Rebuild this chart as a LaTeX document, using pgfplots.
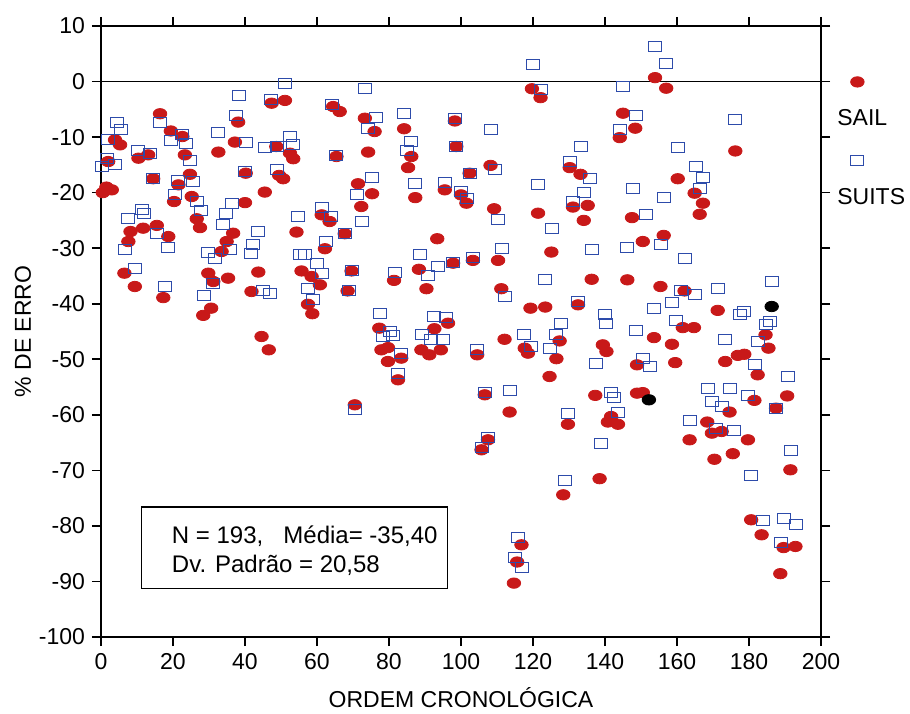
\documentclass[border=0pt]{standalone}
\usepackage{fontspec}
\setmainfont{Liberation Sans}
\usepackage{pgfplots}
\pgfplotsset{compat=1.18}
\definecolor{sailred}{RGB}{200,25,25}
\definecolor{suitsblue}{RGB}{45,75,170}
\pgfplotsset{mylegend/.style={legend image code/.code={%
  \begin{pgfinterruptboundingbox}\draw[##1] plot coordinates {(12pt,18.5pt)};\end{pgfinterruptboundingbox}}}}
\begin{document}
\begin{tikzpicture}
\useasboundingbox (0,0) rectangle (455pt,356.5pt);
\begin{axis}[
  at={(50.5pt,38pt)}, anchor=south west,
  scale only axis, width=360pt, height=305.5pt,
  xmin=0, xmax=200, ymin=-100, ymax=10,
  xtick={0,20,...,200}, ytick={-100,-90,...,10},
  tick align=outside, major tick length=4.5pt,
  axis line style={line width=0.9pt},
  every tick/.style={black, line width=0.8pt},
  tick label style={font=\fontsize{11.5}{13}\selectfont},
  /pgf/number format/assume math mode=true,
  xlabel={ORDEM CRONOLÓGICA}, ylabel={\% DE ERRO},
  label style={font=\fontsize{11.5}{13}\selectfont},
  xlabel style={yshift=-2pt},
  ylabel shift=-3pt,
  legend style={draw=none, fill=none, at={(1,1)}, anchor=north west,
    xshift=6pt, yshift=-39.5pt, font=\fontsize{11.5}{13}\selectfont,
    row sep=26pt, inner sep=0pt},
  legend cell align=left,
]
\addplot[only marks, mark=*, mark size=2.6pt, color=sailred,
  mark options={xscale=1.3, fill=sailred, draw=sailred}, mylegend] table {
x y
0.5 -20
1.5 -19
3 -19.5
2.0 -14.4
3.9 -10.5
5.3 -11.4
6.5 -34.5
7.6 -28.8
8.2 -27
9.4 -36.9
10.4 -13.8
11.7 -26.4
13.1 -13.2
14.5 -17.5
15.5 -25.9
16.4 -5.8
17.3 -38.9
18.7 -27.9
19.4 -8.9
20.3 -21.6
21.5 -18.6
22.6 -9.9
23.3 -13.2
24.7 -16.7
25.2 -20.7
26.6 -24.7
27.5 -26.3
28.4 -42.1
29.8 -34.5
30.6 -40.8
31.2 -36
32.6 -12.7
33.5 -30.6
34.9 -28.8
35.3 -35.4
36.7 -27.3
37.2 -10.9
38.1 -7.3
40.0 -21.8
40.2 -16.5
41.8 -37.8
43.7 -34.3
44.6 -45.9
45.5 -19.9
46.6 -48.3
47.4 -3.9
48.7 -11.7
49.5 -16.9
50.6 -17.5
51.1 -3.4
52.5 -12.9
53.4 -13.9
54.3 -27.1
55.7 -34.1
57.5 -40.1
58.5 -35.1
58.7 -41.8
60.8 -36.6
61.3 -24
62.2 -30.1
63.5 -25.2
64.5 -4.5
65.4 -13.5
66.3 -5.4
67.7 -27.4
68.5 -37.7
69.6 -34.1
70.5 -58.2
71.4 -18.4
72.3 -22.5
73.3 -6.6
74.2 -12.7
75.3 -20.2
76 -9
77.3 -44.4
77.9 -48.3
79.7 -47.9
79.7 -50.4
81.4 -35.8
82.5 -53.7
83.4 -49.8
84.2 -8.5
85.3 -15.5
86.2 -13.5
87.3 -20.9
88.3 -33.8
89 -48.3
90.4 -37.3
91.2 -49.2
92.6 -44.5
93.4 -28.3
94.4 -48.3
95.5 -19.5
96.4 -43.5
97.8 -32.7
98.3 -7.1
98.7 -11.7
100 -20.4
101.5 -21.9
102.4 -16.5
103.3 -32.2
104.5 -49.2
105.7 -66.3
106.6 -56.4
107.5 -64.5
108.2 -15.1
109.2 -22.9
110.3 -32.2
111.2 -37.3
112.1 -46.4
113.5 -59.5
114.7 -90.3
115.6 -86.5
116.8 -83.4
117.7 -48
118.6 -48.9
119.3 -40.8
119.7 -1.3
121.4 -23.7
122.1 -2.9
123.4 -40.6
124.6 -53.1
125.1 -30.7
126.5 -49.9
127.4 -46.7
128.4 -74.4
129.7 -61.7
130.2 -15.5
131.1 -22.6
132.5 -40.2
133.2 -16.7
134.1 -25
135.2 -22.3
136.3 -35.6
137.3 -56.5
138.5 -71.5
139.4 -47.4
140.4 -48.6
140.8 -61.3
141.7 -60.3
143.6 -61.7
144.1 -10.1
145 -5.7
146.2 -35.7
147.5 -24.5
148.4 -8.4
148.9 -51
148.9 -56.1
150.5 -28.8
150.5 -56
153.6 -46.1
153.9 0.7
155.4 -36.9
156.3 -27.7
157 -1.2
158.6 -47.3
159.5 -50.6
160.2 -17.5
161.6 -44.3
162.1 -37.7
163.5 -64.5
164.7 -44.3
164.9 -20.1
166.3 -23.9
167.2 -21.9
168.4 -61.3
169.7 -63.3
170.4 -68
171.3 -41.2
172.4 -63
173.4 -50.4
174.6 -59.5
175.5 -67
176.2 -12.5
176.9 -49.3
178.7 -49.1
179.7 -64.5
180.6 -78.9
181.5 -57.4
182.4 -52.8
183.5 -81.6
184.6 -45.6
185.4 -48
187.5 -58.8
188.7 -88.6
189.6 -83.9
190.6 -56.6
191.5 -69.9
192.9 -83.7
};
\addlegendentry{SAIL}
\addplot[only marks, mark=square, mark size=2.5pt, color=suitsblue,
  mark options={xscale=1.3, draw=suitsblue, line width=0.5pt}, mylegend] table {
x y
0.2 -15.3
1.6 -13.8
2 -10.5
3.9 -15
4.4 -7.4
5.6 -8.6
6.7 -30.3
7.6 -24.6
9.4 -33.7
10.4 -12.5
11.3 -23.1
12 -23.8
13.6 -12.9
14.5 -17.4
15.5 -27.3
16.4 -7.4
17.8 -36.9
18.5 -29.8
19.4 -10.7
20.5 -20.4
21.5 -17.8
22.4 -9.6
23.5 -11.1
24.7 -14.3
25.6 -18
26.6 -21.6
27.8 -23.2
28.7 -38.5
29.6 -30.7
31.2 -36.3
31.6 -31.8
32.6 -9.1
33.8 -25.8
34.6 -23.8
35.8 -30.3
36.3 -21.9
37.4 -6.1
38.3 -2.5
40 -16.2
40.4 -10.9
41.8 -30.9
42.3 -29.4
43.7 -27
45 -37.7
45.5 -11.9
46.9 -38.1
47.2 -3.3
48.8 -15.8
48.8 -11.7
51.1 -0.4
52.5 -9.9
53.4 -11.3
54.6 -24.3
55.2 -31.1
56.8 -31.2
57.5 -37.3
58.9 -39.3
59.9 -32.7
61.3 -22.6
61.3 -34.5
62.6 -28.8
64 -24.3
64.2 -4.1
65.4 -13.4
67.7 -27.4
68.8 -37.7
69.6 -34.1
70.5 -59.1
71.2 -20.4
72.5 -25.2
73.3 -1.3
74.2 -8.4
75.3 -17.2
76.5 -6.5
77.4 -41.7
78.2 -45.9
80.2 -45
81.2 -45.7
81.6 -34.3
82.4 -52.5
83.4 -48.9
84.2 -5.7
85.1 -12.5
86.2 -10.8
87.3 -18.3
88.5 -31.2
89.2 -45.6
90.7 -34.9
91.8 -46.5
92.5 -42.3
93.6 -33.3
95 -46.5
95.5 -18.2
95.9 -42.5
97.9 -32.5
98.3 -6.7
98.7 -11.7
100 -19.8
101.8 -21.1
102.4 -16.5
103.3 -31.6
104.5 -48.3
105.7 -65.8
106.6 -56
107.5 -64.1
108.2 -8.6
109.4 -15.9
110.3 -24.8
111.4 -30
112.1 -38.7
113.5 -55.7
114.9 -85.6
115.8 -82.1
116.9 -87.5
117.6 -45.5
119.5 -47.7
120 3
121.4 -18.6
122.1 -1.5
123.4 -35.7
124.6 -48
125.3 -26.4
126.5 -45.6
127.7 -43.5
128.8 -71.9
129.7 -59.7
130.2 -14.4
131.1 -21.6
132.5 -39.6
133.4 -11.7
134.3 -19.9
135.7 -17.4
136.5 -30.3
137.6 -50.7
138.8 -65.2
139.9 -42
140.4 -43.5
141.7 -55.9
142.6 -56.9
143.6 -59.5
144.1 -8.6
145 -0.9
146.2 -29.8
147.8 -19.2
148.5 -6.1
148.6 -44.8
150.5 -49.8
151.5 -24
152.6 -51.3
153.6 -40.8
153.9 6.3
155.6 -29.4
156.5 -20.9
157 3.3
158.6 -39.8
159.8 -43.1
160.2 -11.9
161.2 -37.7
162.3 -31.9
163.7 -61.1
164.9 -38.3
165.3 -15.3
166.4 -19.2
167.2 -17.2
168.6 -55.3
169.7 -57.6
170.9 -62.4
171.3 -37.3
172.4 -58.5
173.4 -46.5
174.6 -55.2
175.8 -62.9
176.2 -6.9
177.6 -42
178.5 -41.4
179.7 -56.6
180.6 -70.9
181.7 -50.9
182.4 -46.8
183.8 -79
184.8 -43.8
185.7 -43.2
186.4 -36
187.5 -58.8
188.9 -82.9
189.8 -78.7
190.8 -53.1
191.7 -66.5
193.1 -79.8
};
\addlegendentry{SUITS}
\addplot[only marks, mark=*, mark size=2.6pt, color=black,
  mark options={xscale=1.3, fill=black}, forget plot] table {
x y
152.2 -57.3
186.3 -40.5
};
\addplot[black, line width=0.8pt, forget plot] coordinates {(0,0) (200,0)};
\draw[line width=0.8pt, fill=white] (axis cs:11.3,-76.6) rectangle (axis cs:96.3,-91.3);
\node[anchor=base west, font=\fontsize{12}{14}\selectfont, inner sep=0pt] at (axis cs:19.6,-83.1) {N = 193,};
\node[anchor=base east, font=\fontsize{12}{14}\selectfont, inner sep=0pt] at (axis cs:93.6,-83.1) {Média= -35,40};
\node[anchor=base west, font=\fontsize{12}{14}\selectfont, inner sep=0pt] at (axis cs:19.6,-88.3) {Dv. Padrão = 20,58};
\end{axis}
\end{tikzpicture}
\end{document}
